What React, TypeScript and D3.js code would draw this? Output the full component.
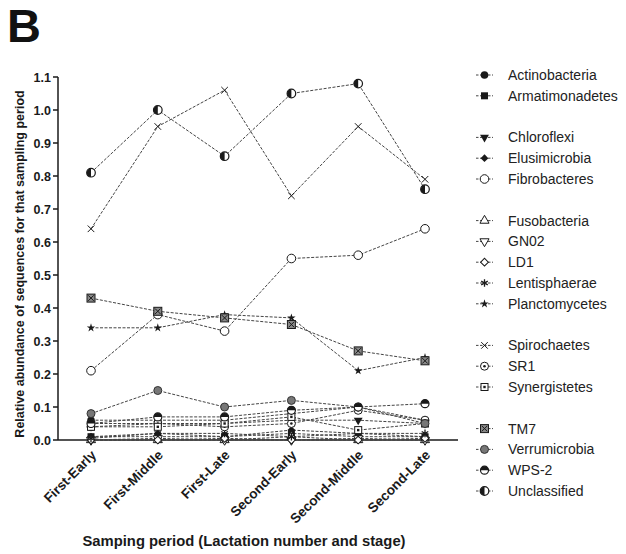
import React from 'react';
import * as d3 from 'd3';

const PERIODS = ['First-Early', 'First-Middle', 'First-Late', 'Second-Early', 'Second-Middle', 'Second-Late'];
const Y_TICKS = [0.0, 0.1, 0.2, 0.3, 0.4, 0.5, 0.6, 0.7, 0.8, 0.9, 1.0, 1.1];

// values per period
const ACTINOBACTERIA = [0.06, 0.06, 0.06, 0.08, 0.10, 0.06];
const ARMATIMONADETES = [0.01, 0.01, 0.01, 0.02, 0.01, 0.01];
const CHLOROFLEXI = [0.05, 0.05, 0.05, 0.06, 0.06, 0.05];
const ELUSIMICROBIA = [0.01, 0.02, 0.01, 0.03, 0.02, 0.01];
const FIBROBACTERES = [0.21, 0.38, 0.33, 0.55, 0.56, 0.64];
const FUSOBACTERIA = [0.0, 0.0, 0.0, 0.01, 0.0, 0.0];
const GN02 = [0.0, 0.005, 0.0, 0.0, 0.005, 0.0];
const LD1 = [0.0, 0.0, 0.005, 0.0, 0.0, 0.005];
const LENTISPHAERAE = [0.005, 0.02, 0.02, 0.01, 0.02, 0.02];
const PLANCTOMYCETES = [0.34, 0.34, 0.38, 0.37, 0.21, 0.25];
const SPIROCHAETES = [0.64, 0.95, 1.06, 0.74, 0.95, 0.79];
const SR1 = [0.04, 0.05, 0.04, 0.05, 0.09, 0.06];
const SYNERGISTETES = [0.04, 0.04, 0.05, 0.07, 0.03, 0.05];
const TM7 = [0.43, 0.39, 0.37, 0.35, 0.27, 0.24];
const VERRUMICROBIA = [0.08, 0.15, 0.10, 0.12, 0.10, 0.05];
const WPS2 = [0.05, 0.07, 0.07, 0.09, 0.10, 0.11];
const UNCLASSIFIED = [0.81, 1.00, 0.86, 1.05, 1.08, 0.76];

const SERIES = [
  { name: 'Actinobacteria', values: ACTINOBACTERIA, marker: 'filledCircle', group: 0 },
  { name: 'Armatimonadetes', values: ARMATIMONADETES, marker: 'filledSquare', group: 0 },
  { name: 'Chloroflexi', values: CHLOROFLEXI, marker: 'filledDown', group: 1 },
  { name: 'Elusimicrobia', values: ELUSIMICROBIA, marker: 'filledDiamond', group: 1 },
  { name: 'Fibrobacteres', values: FIBROBACTERES, marker: 'openCircle', group: 1 },
  { name: 'Fusobacteria', values: FUSOBACTERIA, marker: 'openUp', group: 2 },
  { name: 'GN02', values: GN02, marker: 'openDown', group: 2 },
  { name: 'LD1', values: LD1, marker: 'openDiamond', group: 2 },
  { name: 'Lentisphaerae', values: LENTISPHAERAE, marker: 'asterisk', group: 2 },
  { name: 'Planctomycetes', values: PLANCTOMYCETES, marker: 'star', group: 2 },
  { name: 'Spirochaetes', values: SPIROCHAETES, marker: 'cross', group: 3 },
  { name: 'SR1', values: SR1, marker: 'dotCircle', group: 3 },
  { name: 'Synergistetes', values: SYNERGISTETES, marker: 'dotSquare', group: 3 },
  { name: 'TM7', values: TM7, marker: 'xSquare', group: 4 },
  { name: 'Verrumicrobia', values: VERRUMICROBIA, marker: 'grayCircle', group: 4 },
  { name: 'WPS-2', values: WPS2, marker: 'topHalf', group: 4 },
  { name: 'Unclassified', values: UNCLASSIFIED, marker: 'leftHalf', group: 4 },
];

const INK = '#1a1a1a';
const LINE = '#444';

function Marker({ type, x, y }: { type: string; x: number; y: number }) {
  const sym = (t: any, size: number) => d3.symbol().type(t).size(size)() as string;
  const tr = `translate(${x},${y})`;
  switch (type) {
    case 'filledCircle':
      return <circle cx={x} cy={y} r={3.8} fill={INK} />;
    case 'filledSquare':
      return <rect x={x - 3.5} y={y - 3.5} width={7} height={7} fill={INK} />;
    case 'filledDown':
      return <path transform={`${tr} rotate(180)`} d={sym(d3.symbolTriangle, 34)} fill={INK} />;
    case 'filledDiamond':
      return <path transform={`${tr} rotate(45)`} d={sym(d3.symbolSquare, 30)} fill={INK} />;
    case 'openCircle':
      return <circle cx={x} cy={y} r={4.3} fill="#fff" stroke={INK} strokeWidth={1} />;
    case 'openUp':
      return <path transform={tr} d={sym(d3.symbolTriangle, 36)} fill="#fff" stroke={INK} strokeWidth={1} />;
    case 'openDown':
      return <path transform={`${tr} rotate(180)`} d={sym(d3.symbolTriangle, 36)} fill="#fff" stroke={INK} strokeWidth={1} />;
    case 'openDiamond':
      return <path transform={`${tr} rotate(45)`} d={sym(d3.symbolSquare, 30)} fill="#fff" stroke={INK} strokeWidth={1} />;
    case 'asterisk':
      return <path transform={tr} d={sym(d3.symbolAsterisk, 40)} fill="none" stroke={INK} strokeWidth={1.3} />;
    case 'star':
      return <path transform={tr} d={sym(d3.symbolStar, 22)} fill={INK} />;
    case 'cross':
      return <path transform={tr} d={sym(d3.symbolTimes, 30)} fill="none" stroke={INK} strokeWidth={1} />;
    case 'dotCircle':
      return (
        <g>
          <circle cx={x} cy={y} r={4} fill="#fff" stroke={INK} strokeWidth={1} />
          <circle cx={x} cy={y} r={1.3} fill={INK} />
        </g>
      );
    case 'dotSquare':
      return (
        <g>
          <rect x={x - 3.5} y={y - 3.5} width={7} height={7} fill="#fff" stroke={INK} strokeWidth={1} />
          <rect x={x - 1.2} y={y - 1.2} width={2.4} height={2.4} fill={INK} />
        </g>
      );
    case 'xSquare':
      return (
        <g>
          <rect x={x - 4} y={y - 4} width={8} height={8} fill="#888" stroke={INK} strokeWidth={1} />
          <path transform={tr} d={sym(d3.symbolTimes, 22)} fill="none" stroke={INK} strokeWidth={1} />
        </g>
      );
    case 'grayCircle':
      return <circle cx={x} cy={y} r={4} fill="#777" stroke="#333" strokeWidth={1} />;
    case 'topHalf':
      return (
        <g>
          <circle cx={x} cy={y} r={4} fill="#fff" stroke={INK} strokeWidth={1.2} />
          <path d={`M${x - 4},${y} A4,4 0 0 1 ${x + 4},${y} Z`} fill={INK} />
        </g>
      );
    case 'leftHalf':
      return (
        <g>
          <circle cx={x} cy={y} r={4.3} fill="#fff" stroke={INK} strokeWidth={1.2} />
          <path d={`M${x},${y - 4.3} A4.3,4.3 0 0 0 ${x},${y + 4.3} Z`} fill={INK} />
        </g>
      );
    default:
      return null;
  }
}

export default function App() {
  const W = 626, H = 554;
  const x = d3.scalePoint<string>().domain(PERIODS).range([91, 425]);
  const y = d3.scaleLinear().domain([0, 1.1]).range([440, 77]);
  const line = d3.line<number>().x((_, i) => x(PERIODS[i]) as number).y(d => y(d));

  // legend rows, extra blank row between groups
  let row = 0;
  let lastGroup = 0;
  const legend = SERIES.map(s => {
    if (s.group !== lastGroup) { row += 1; lastGroup = s.group; }
    const ly = 75 + row * 20.8;
    row += 1;
    return { ...s, ly };
  });

  const font = '"Liberation Sans", Arial, sans-serif';

  return (
    <div style={{ position: 'absolute', left: 0, top: 0 }}>
      <svg width={W} height={H} style={{ display: 'block', background: '#fff' }} fontFamily={font}>
        <text x={7} y={42} fontSize={47} fontWeight="bold" fill="#111">B</text>

        {/* y axis */}
        <line x1={58} x2={58} y1={y(1.1)} y2={y(0)} stroke={INK} strokeWidth={1.5} />
        {Y_TICKS.map(t => (
          <g key={t}>
            <line x1={53} x2={58} y1={y(t)} y2={y(t)} stroke={INK} strokeWidth={1.5} />
            <text x={51} y={y(t) + 4.5} textAnchor="end" fontSize={12.5} fontWeight="bold" fill={INK}>
              {d3.format('.1f')(t)}
            </text>
          </g>
        ))}
        <text transform={`translate(24,264) rotate(-90)`} textAnchor="middle" fontSize={12.5} fontWeight="bold" fill={INK}>
          Relative abundance of sequences for that sampling period
        </text>

        {/* x axis */}
        <line x1={58} x2={458} y1={y(0)} y2={y(0)} stroke={INK} strokeWidth={1.5} />
        {PERIODS.map(p => (
          <g key={p}>
            <line x1={x(p)} x2={x(p)} y1={y(0)} y2={y(0) + 4} stroke={INK} strokeWidth={1.5} />
            <text transform={`translate(${(x(p) as number) + 6},${y(0) + 16}) rotate(-45)`} textAnchor="end"
              fontSize={13.6} fontWeight="bold" fill={INK}>{p}</text>
          </g>
        ))}
        <text x={244} y={546} textAnchor="middle" fontSize={14.8} fontWeight="bold" fill={INK}>
          Samping period (Lactation number and stage)
        </text>

        {/* series */}
        {SERIES.map(s => (
          <path key={s.name} d={line(s.values) as string} fill="none" stroke={LINE} strokeWidth={1}
            strokeDasharray="3,1.5" />
        ))}
        {SERIES.map(s => (
          <g key={s.name + '-m'}>
            {s.values.map((v, i) => <Marker key={i} type={s.marker} x={x(PERIODS[i]) as number} y={y(v)} />)}
          </g>
        ))}

        {/* legend */}
        {legend.map(s => (
          <g key={s.name + '-l'}>
            <line x1={476} x2={493} y1={s.ly} y2={s.ly} stroke={LINE} strokeWidth={1} strokeDasharray="2.5,1.5" />
            <Marker type={s.marker} x={484.5} y={s.ly} />
            <text x={508} y={s.ly + 5} fontSize={14} fill="#222">{s.name}</text>
          </g>
        ))}
      </svg>
    </div>
  );
}
